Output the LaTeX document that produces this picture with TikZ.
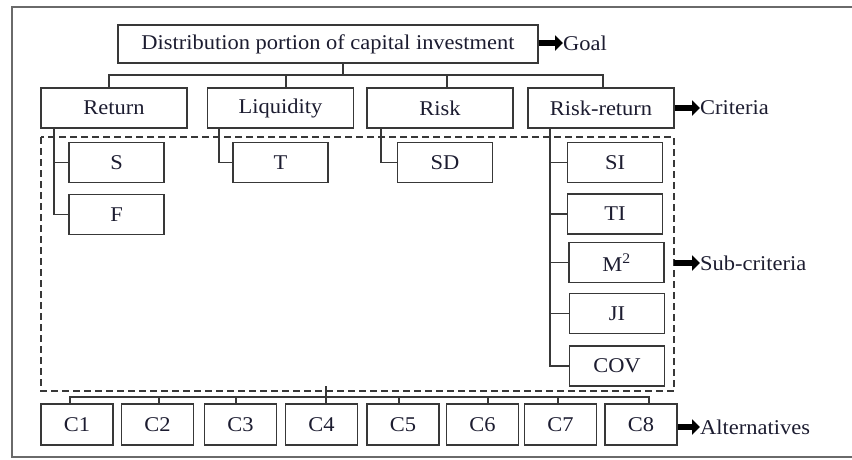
\documentclass[tikz,border=0pt]{standalone}
\usepackage{fontspec}
\setmainfont[FakeStretch=1.07]{Liberation Serif}
\usetikzlibrary{arrows.meta}
\definecolor{boxc}{HTML}{383838}
\definecolor{txt}{HTML}{1C1C30}
\definecolor{framec}{HTML}{6A6A6A}
\begin{document}
\begin{tikzpicture}[x=1pt,y=-1pt,
  box/.style={draw=boxc, line width=1.8pt, fill=white, inner sep=0pt, font=\fontsize{21}{24}\selectfont, text=txt},
  crit/.style={box, minimum width=146pt, minimum height=40pt},
  sub/.style={box, minimum width=95pt, minimum height=40pt},
  alt/.style={box, minimum width=72pt, minimum height=41pt},
  link/.style={draw=boxc, line width=1.5pt},
  lbl/.style={anchor=west, inner sep=0pt, font=\fontsize{21}{24}\selectfont, text=txt},
  fat/.style={draw=black, line width=6pt, -{Triangle[length=8pt,width=15pt]}},
]
\useasboundingbox (0,0) rectangle (852,459);
% outer frame
\draw[framec, line width=2pt] (852,7) -- (12,7) -- (12,457) -- (852,457);

% goal
\node[box, minimum width=420pt, minimum height=38pt] (goal) at (328,44) {Distribution portion of capital investment};
% criteria
\node[crit] (ret) at (114,108) {Return};
\node[crit] (liq) at (280.5,108) {Liquidity};
\node[crit] (risk) at (440,108) {Risk};
\node[crit] (rr) at (601,108) {Risk-return};

% dashed frame
\draw[boxc, line width=1.6pt, dash pattern=on 7pt off 4pt] (41,137) rectangle (674,391);

% sub-criteria
\node[sub] (s) at (116.5,162.5) {S};
\node[sub] (f) at (116.5,214.5) {F};
\node[sub] (t) at (280.5,162.5) {T};
\node[sub] (sd) at (445,162.5) {SD};
\node[sub] (si) at (615,162.5) {SI};
\node[sub] (ti) at (615,214) {TI};
\node[sub] (m2) at (616.5,262.5) {M\textsuperscript{2}};
\node[sub] (ji) at (617,313.5) {JI};
\node[sub] (cov) at (617,366) {COV};

% alternatives
\node[alt] (c1) at (77,424.5) {C1};
\node[alt] (c2) at (157.5,424.5) {C2};
\node[alt] (c3) at (240.5,424.5) {\raisebox{-3pt}{C3}};
\node[alt] (c4) at (321.5,424.5) {C4};
\node[alt] (c5) at (403,424.5) {\raisebox{-3pt}{C5}};
\node[alt] (c6) at (482.5,424.5) {C6};
\node[alt] (c7) at (560.5,424.5) {\raisebox{-3pt}{C7}};
\node[alt] (c8) at (641,424.5) {C8};

% goal -> criteria
\coordinate (gb) at (343,75);
\draw[link] (343,0 |- goal.south) -- (gb);
\draw[link] (109,0 |- ret.north) -- (109,75) -- (603,75) -- (603,0 |- rr.north);
\draw[link] (286,75) -- (286,0 |- liq.north);
\draw[link] (447,75) -- (447,0 |- risk.north);

% criteria -> sub-criteria
\draw[link] (54,0 |- ret.south) -- (54,0 |- f.west) -- (f.west);
\draw[link] (54,0 |- s.west) -- (s.west);
\draw[link] (219,0 |- liq.south) -- (219,0 |- t.west) -- (t.west);
\draw[link] (381,0 |- risk.south) -- (381,0 |- sd.west) -- (sd.west);
\draw[link] (550,0 |- rr.south) -- (550,0 |- cov.west) -- (cov.west);
\foreach \n in {si,ti,m2,ji} \draw[link] (550,0 |- \n.west) -- (\n.west);

% sub-criteria -> alternatives
\coordinate (ab) at (326,386);
\draw[link] (ab) -- (326,0 |- c4.north);
\draw[link] (70,0 |- c1.north) -- (70,397) -- (649,397) -- (649,0 |- c8.north);
\draw[link] (159,397) -- (159,0 |- c2.north);
\draw[link] (236,397) -- (236,0 |- c3.north);
\draw[link] (399,397) -- (399,0 |- c5.north);
\draw[link] (488,397) -- (488,0 |- c6.north);
\draw[link] (558,397) -- (558,0 |- c7.north);

% level labels
\node[lbl] (lg) at (563,43) {Goal};
\node[lbl] (lc) at (700,108) {Criteria};
\node[lbl] (ls) at (700,263) {Sub-criteria};
\node[lbl] (la) at (700,427) {Alternatives};
\coordinate (dr) at (674,263);
\draw[fat] (goal.east |- lg.west) -- (lg.west);
\draw[fat] (rr.east |- lc.west) -- (lc.west);
\draw[fat] (dr) -- (ls.west);
\draw[fat] (c8.east |- la.west) -- (la.west);
\end{tikzpicture}
\end{document}
